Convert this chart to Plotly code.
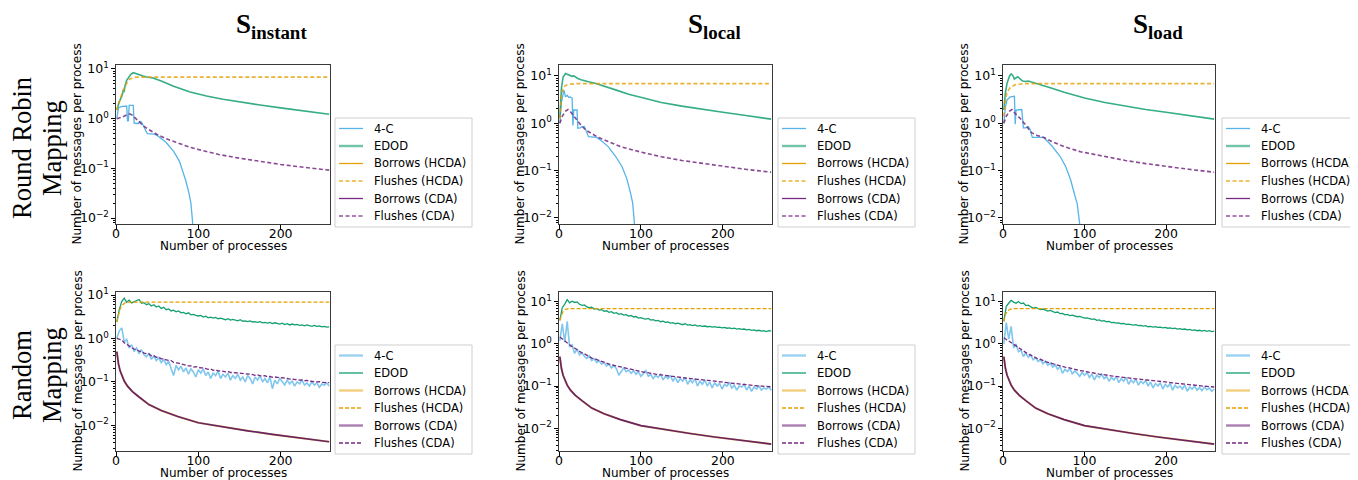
import plotly.graph_objects as go

# The page body adds an 8px margin, so the figure is drawn 8px smaller and shifted.
OFF = 8
W, H = 1358 - OFF, 480 - OFF


def fx(p):
    return (p - OFF) / W


def fy(p):
    return 1 - (p - OFF) / H


# ---------------- labels ----------------
SERIES = ["4-C", "EDOD", "Borrows (HCDA)", "Flushes (HCDA)", "Borrows (CDA)", "Flushes (CDA)"]
COLUMN_TITLES = ["instant", "local", "load"]
ROW_TITLES = [("Round Robin", "Mapping"), ("Random", "Mapping")]
X_TITLE = "Number of processes"
Y_TITLE = "Number of messages per process"
X_TICKS = [0, 100, 200]
Y_TICKS = [0.01, 0.1, 1, 10]
Y_TICK_TEXT = ["10<sup>−2</sup>", "10<sup>−1</sup>", "10<sup>0</sup>", "10<sup>1</sup>"]

# ---------------- Round Robin mapping (top row) ----------------
# borrows stay at zero under round robin (nothing visible on the log axis)
RR_BORROW_X = [1, 259]
RR_BORROW_Y = [0, 0]

# S_instant
TL_4C_X = [1, 2, 3, 6, 11, 13, 14, 15, 16, 21, 22, 24, 27, 29, 31, 33, 36, 38, 46, 50, 61, 70, 77, 85, 89, 91, 93, 94]
TL_4C_Y = [1.0, 1.5, 1.65, 1.75, 1.8, 1.8, 0.9, 0.9, 1.85, 1.85, 0.82, 0.8, 0.8, 0.88, 0.85, 0.72, 0.55, 0.5, 0.49, 0.46, 0.33, 0.22, 0.14, 0.055, 0.03, 0.02, 0.0085, 0.001]
TL_EDOD_X = [1, 4, 7, 9, 10, 11, 13, 16, 18, 21, 25, 29, 33, 37, 45, 55, 70, 90, 110, 130, 150, 175, 200, 228, 259]
TL_EDOD_Y = [1.5, 2.2, 2.8, 3.7, 3.6, 4.6, 5.9, 7.1, 7.8, 8.4, 7.9, 7.5, 7.2, 6.9, 6.6, 5.7, 4.5, 3.45, 2.85, 2.45, 2.15, 1.88, 1.65, 1.44, 1.23]
TL_HCDA_X = [1, 3, 5, 7, 9, 11, 13, 15, 17, 20, 24, 259]
TL_HCDA_Y = [1.5, 2.0, 2.6, 3.1, 3.8, 4.5, 5.2, 5.8, 6.3, 6.6, 6.85, 6.85]
TL_CDA_X = [1, 4, 8, 12, 16, 19, 22, 26, 30, 35, 40, 50, 60, 75, 90, 100, 125, 150, 175, 200, 228, 259]
TL_CDA_Y = [1.0, 1.02, 1.08, 1.17, 1.25, 1.2, 1.08, 0.93, 0.8, 0.68, 0.6, 0.48, 0.4, 0.32, 0.265, 0.24, 0.19, 0.16, 0.137, 0.12, 0.105, 0.092]

# S_local
TM_4C_X = [1, 3, 6, 8, 10, 12, 14, 16, 17, 18, 22, 23, 26, 28, 31, 33, 36, 46, 50, 60, 69, 77, 83, 88, 90, 92, 93]
TM_4C_Y = [1.0, 2.8, 5.0, 3.6, 3.9, 3.5, 3.6, 3.4, 0.9, 1.9, 1.9, 0.78, 0.8, 0.85, 0.85, 0.72, 0.52, 0.5, 0.45, 0.32, 0.2, 0.12, 0.065, 0.03, 0.02, 0.008, 0.001]
TM_EDOD_X = [1, 3, 5, 8, 10, 13, 16, 18, 20, 23, 27, 31, 36, 45, 57, 70, 85, 100, 125, 150, 175, 200, 228, 259]
TM_EDOD_Y = [1.3, 5.5, 9.5, 11.2, 10.8, 10.2, 9.8, 10.0, 9.5, 8.8, 8.3, 7.9, 7.5, 6.9, 6.0, 5.0, 4.1, 3.5, 2.75, 2.3, 1.95, 1.7, 1.45, 1.22]
TM_HCDA_X = [1, 3, 5, 8, 12, 20, 259]
TM_HCDA_Y = [1.25, 3.8, 5.6, 6.3, 6.6, 6.85, 6.85]
TM_CDA_X = [1, 4, 8, 11, 14, 18, 22, 27, 33, 40, 48, 60, 75, 100, 125, 150, 176, 200, 228, 259]
TM_CDA_Y = [1.0, 1.4, 1.8, 1.95, 1.75, 1.4, 1.15, 0.9, 0.71, 0.6, 0.5, 0.41, 0.32, 0.245, 0.195, 0.163, 0.14, 0.122, 0.106, 0.092]

# S_load
TR_4C_X = [1, 3, 5, 9, 14, 15, 16, 19, 23, 25, 28, 31, 33, 36, 50, 60, 70, 77, 83, 88, 91, 94, 95]
TR_4C_Y = [1.0, 2.2, 3.1, 3.6, 3.7, 0.95, 1.9, 1.95, 1.95, 0.8, 0.8, 0.85, 0.75, 0.5, 0.5, 0.33, 0.2, 0.12, 0.063, 0.03, 0.02, 0.0076, 0.001]
TR_EDOD_X = [1, 3, 5, 8, 10, 12, 14, 16, 18, 20, 24, 28, 31, 35, 40, 50, 60, 75, 100, 125, 150, 175, 200, 228, 259]
TR_EDOD_Y = [1.9, 4.5, 7.0, 10.0, 11.0, 10.2, 8.6, 9.2, 9.6, 9.0, 7.8, 7.6, 7.8, 7.4, 7.0, 6.3, 5.5, 4.5, 3.4, 2.75, 2.3, 1.95, 1.7, 1.45, 1.22]
TR_HCDA_X = [1, 3, 5, 9, 15, 25, 259]
TR_HCDA_Y = [1.4, 3.2, 4.5, 5.7, 6.5, 6.85, 6.85]
TR_CDA_X = [1, 4, 8, 11, 15, 21, 27, 35, 42, 50, 60, 75, 95, 125, 150, 175, 200, 228, 259]
TR_CDA_Y = [1.0, 1.4, 1.8, 1.95, 1.6, 1.27, 0.95, 0.63, 0.55, 0.5, 0.41, 0.32, 0.25, 0.195, 0.163, 0.14, 0.122, 0.106, 0.092]

# ---------------- Random mapping (bottom row) ----------------
X_RAND = list(range(1, 260, 3))

BL_4C = [1.0, 1.5, 1.75, 0.85, 0.95, 0.6, 0.72, 0.5, 0.6, 0.45,
         0.55, 0.42, 0.38, 0.46, 0.33, 0.4, 0.31, 0.36, 0.28, 0.33,
         0.25, 0.3, 0.2, 0.14, 0.24, 0.19, 0.23, 0.17, 0.21, 0.15,
         0.2, 0.17, 0.13, 0.19, 0.16, 0.2, 0.14, 0.17, 0.12, 0.16,
         0.14, 0.18, 0.12, 0.15, 0.13, 0.16, 0.11, 0.14, 0.12, 0.15,
         0.11, 0.13, 0.1, 0.14, 0.12, 0.09, 0.13, 0.11, 0.14, 0.1,
         0.12, 0.095, 0.13, 0.07, 0.11, 0.09, 0.12, 0.1, 0.085, 0.11,
         0.09, 0.105, 0.08, 0.1, 0.09, 0.11, 0.085, 0.095, 0.08, 0.1,
         0.085, 0.095, 0.075, 0.09, 0.085, 0.095, 0.08]
BL_EDOD = [2.4, 4.6, 7.2, 8.5, 6.8, 7.6, 6.6, 7.0, 7.4, 7.9,
           6.5, 6.7, 6.0, 6.3, 5.6, 6.0, 5.3, 5.6, 4.9, 5.2,
           4.6, 4.8, 4.3, 4.5, 4.1, 4.3, 3.9, 4.0, 3.7, 3.9,
           3.5, 3.6, 3.4, 3.3, 3.4, 3.1, 3.25, 3.0, 3.1, 2.95,
           3.05, 2.85, 2.95, 2.8, 2.7, 2.85, 2.65, 2.75, 2.6, 2.55,
           2.7, 2.5, 2.55, 2.45, 2.55, 2.4, 2.45, 2.35, 2.45, 2.3,
           2.35, 2.25, 2.35, 2.2, 2.3, 2.2, 2.15, 2.25, 2.1, 2.2,
           2.05, 2.15, 2.05, 2.1, 2.0, 2.05, 1.95, 2.05, 1.95, 1.9,
           2.0, 1.9, 1.95, 1.85, 1.9, 1.82, 1.85]
BL_FCDA = [1.0, 0.95, 0.92, 0.8, 0.74, 0.66, 0.63, 0.57, 0.56, 0.51,
           0.5, 0.46, 0.45, 0.44, 0.4, 0.4, 0.37, 0.37, 0.34, 0.34,
           0.32, 0.31, 0.31, 0.28, 0.28, 0.27, 0.26, 0.25, 0.25, 0.235,
           0.235, 0.22, 0.225, 0.215, 0.21, 0.21, 0.2, 0.195, 0.2, 0.185,
           0.19, 0.18, 0.18, 0.175, 0.17, 0.175, 0.165, 0.165, 0.163, 0.158,
           0.16, 0.152, 0.155, 0.15, 0.148, 0.148, 0.142, 0.145, 0.14, 0.136,
           0.14, 0.132, 0.134, 0.128, 0.13, 0.126, 0.124, 0.125, 0.12, 0.12,
           0.116, 0.118, 0.113, 0.114, 0.11, 0.111, 0.107, 0.108, 0.104, 0.105,
           0.102, 0.1, 0.101, 0.098, 0.098, 0.096, 0.096]
BL_HCDA_X = [1, 3, 5, 7, 9, 11, 14, 259]
BL_HCDA_Y = [2.4, 3.6, 4.8, 5.7, 6.3, 6.6, 6.85, 6.85]

BM_4C = [1.2, 3.0, 1.1, 3.4, 0.85, 0.95, 0.6, 0.75, 0.55, 0.62,
         0.5, 0.45, 0.52, 0.4, 0.44, 0.36, 0.4, 0.33, 0.36, 0.3,
         0.33, 0.27, 0.31, 0.26, 0.18, 0.22, 0.27, 0.22, 0.24, 0.2,
         0.23, 0.19, 0.22, 0.17, 0.2, 0.23, 0.17, 0.19, 0.15, 0.18,
         0.16, 0.19, 0.14, 0.17, 0.15, 0.18, 0.13, 0.16, 0.12, 0.15,
         0.13, 0.16, 0.11, 0.14, 0.12, 0.15, 0.1, 0.13, 0.11, 0.14,
         0.1, 0.125, 0.09, 0.12, 0.1, 0.115, 0.085, 0.11, 0.1, 0.12,
         0.09, 0.105, 0.08, 0.1, 0.095, 0.11, 0.08, 0.1, 0.075, 0.095,
         0.085, 0.1, 0.08, 0.09, 0.085, 0.095, 0.08]
BM_EDOD = [3.6, 7.2, 8.8, 11.2, 9.4, 10.3, 9.6, 9.9, 8.7, 8.2,
           8.4, 7.5, 7.2, 7.4, 6.7, 6.9, 6.3, 6.5, 5.9, 6.1,
           5.6, 5.8, 5.3, 5.5, 5.0, 5.2, 4.8, 4.95, 4.55, 4.7,
           4.35, 4.45, 4.1, 4.2, 3.95, 3.85, 4.0, 3.65, 3.75, 3.5,
           3.6, 3.35, 3.45, 3.25, 3.3, 3.1, 3.2, 3.0, 3.1, 2.95,
           2.85, 3.0, 2.8, 2.85, 2.7, 2.8, 2.65, 2.7, 2.6, 2.65,
           2.55, 2.6, 2.5, 2.55, 2.45, 2.5, 2.4, 2.45, 2.35, 2.4,
           2.3, 2.35, 2.25, 2.3, 2.2, 2.25, 2.15, 2.2, 2.1, 2.15,
           2.05, 2.1, 2.0, 2.05, 1.95, 2.05, 2.0]
BM_FCDA = [1.45, 1.3, 1.15, 1.05, 0.95, 0.86, 0.8, 0.72, 0.67, 0.61,
           0.58, 0.53, 0.5, 0.46, 0.45, 0.42, 0.4, 0.385, 0.36, 0.35,
           0.33, 0.325, 0.31, 0.3, 0.29, 0.285, 0.27, 0.265, 0.255, 0.25,
           0.24, 0.235, 0.226, 0.222, 0.214, 0.212, 0.205, 0.2, 0.197, 0.192,
           0.189, 0.184, 0.182, 0.177, 0.175, 0.171, 0.169, 0.165, 0.163, 0.16,
           0.158, 0.155, 0.153, 0.15, 0.149, 0.146, 0.145, 0.142, 0.14, 0.138,
           0.137, 0.134, 0.133, 0.13, 0.129, 0.126, 0.125, 0.122, 0.121, 0.118,
           0.118, 0.115, 0.114, 0.112, 0.111, 0.109, 0.108, 0.106, 0.105, 0.103,
           0.102, 0.1, 0.1, 0.098, 0.098, 0.096, 0.096]
BM_HCDA_X = [1, 3, 5, 8, 12, 259]
BM_HCDA_Y = [3.6, 5.0, 6.0, 6.6, 6.85, 6.85]

BR_4C = [1.0, 3.2, 1.3, 2.6, 0.8, 1.0, 0.65, 0.72, 0.5, 0.6,
         0.48, 0.55, 0.42, 0.47, 0.38, 0.43, 0.34, 0.39, 0.31, 0.35,
         0.28, 0.32, 0.25, 0.29, 0.2, 0.25, 0.22, 0.26, 0.19, 0.23,
         0.2, 0.17, 0.21, 0.18, 0.21, 0.16, 0.19, 0.14, 0.18, 0.16,
         0.19, 0.15, 0.17, 0.13, 0.16, 0.14, 0.17, 0.12, 0.15, 0.13,
         0.16, 0.11, 0.14, 0.12, 0.145, 0.105, 0.13, 0.115, 0.135, 0.1,
         0.125, 0.09, 0.115, 0.1, 0.12, 0.085, 0.11, 0.095, 0.115, 0.08,
         0.105, 0.09, 0.1, 0.085, 0.105, 0.075, 0.095, 0.085, 0.1, 0.08,
         0.092, 0.078, 0.095, 0.082, 0.09, 0.075, 0.085]
BR_EDOD = [3.4, 7.8, 9.2, 10.8, 9.8, 9.2, 10.1, 9.0, 9.3, 8.1,
           8.3, 7.6, 7.0, 7.3, 6.8, 6.5, 6.7, 6.2, 6.0, 6.2,
           5.7, 5.5, 5.7, 5.2, 5.3, 4.9, 5.0, 4.7, 4.8, 4.5,
           4.4, 4.5, 4.2, 4.1, 4.15, 3.9, 3.8, 3.9, 3.6, 3.7,
           3.45, 3.55, 3.35, 3.4, 3.2, 3.25, 3.1, 3.15, 3.0, 3.05,
           2.9, 2.95, 2.85, 2.8, 2.85, 2.7, 2.75, 2.65, 2.7, 2.55,
           2.6, 2.5, 2.55, 2.45, 2.5, 2.4, 2.45, 2.35, 2.4, 2.3,
           2.35, 2.25, 2.3, 2.2, 2.25, 2.15, 2.2, 2.1, 2.15, 2.05,
           2.1, 2.0, 2.08, 1.98, 2.05, 1.95, 2.0]
BR_FCDA = [1.4, 1.28, 1.16, 1.04, 0.96, 0.87, 0.79, 0.73, 0.66, 0.62,
           0.57, 0.54, 0.5, 0.47, 0.44, 0.43, 0.4, 0.38, 0.365, 0.35,
           0.335, 0.32, 0.315, 0.3, 0.292, 0.28, 0.275, 0.265, 0.258, 0.248,
           0.243, 0.234, 0.23, 0.22, 0.217, 0.21, 0.207, 0.2, 0.198, 0.191,
           0.19, 0.184, 0.181, 0.178, 0.174, 0.172, 0.168, 0.166, 0.162, 0.161,
           0.157, 0.156, 0.152, 0.151, 0.148, 0.147, 0.144, 0.143, 0.14, 0.139,
           0.136, 0.135, 0.132, 0.131, 0.128, 0.127, 0.124, 0.123, 0.121, 0.119,
           0.117, 0.116, 0.114, 0.113, 0.111, 0.11, 0.108, 0.107, 0.105, 0.104,
           0.102, 0.101, 0.099, 0.098, 0.097, 0.096, 0.095]
BR_HCDA_X = [1, 3, 5, 8, 12, 259]
BR_HCDA_Y = [3.4, 4.9, 5.9, 6.5, 6.85, 6.85]

# borrows (HCDA and CDA coincide) under random mapping
RAND_BORROW_X = [1, 2, 3, 5, 7, 10, 14, 20, 28, 40, 55, 75, 100, 130, 160, 190, 220, 259]
RAND_BORROW_Y = [0.5, 0.34, 0.26, 0.18, 0.14, 0.105, 0.08, 0.06, 0.045, 0.03, 0.022, 0.016, 0.0115, 0.0092, 0.0075, 0.0062, 0.0052, 0.0042]

for arr in (BL_4C, BL_EDOD, BL_FCDA, BM_4C, BM_EDOD, BM_FCDA, BR_4C, BR_EDOD, BR_FCDA):
    if len(arr) != len(X_RAND):
        raise ValueError(f"length mismatch {len(arr)} vs {len(X_RAND)}")

PANELS = [
    [(TL_4C_X, TL_4C_Y), (TL_EDOD_X, TL_EDOD_Y), (RR_BORROW_X, RR_BORROW_Y), (TL_HCDA_X, TL_HCDA_Y), (RR_BORROW_X, RR_BORROW_Y), (TL_CDA_X, TL_CDA_Y)],
    [(TM_4C_X, TM_4C_Y), (TM_EDOD_X, TM_EDOD_Y), (RR_BORROW_X, RR_BORROW_Y), (TM_HCDA_X, TM_HCDA_Y), (RR_BORROW_X, RR_BORROW_Y), (TM_CDA_X, TM_CDA_Y)],
    [(TR_4C_X, TR_4C_Y), (TR_EDOD_X, TR_EDOD_Y), (RR_BORROW_X, RR_BORROW_Y), (TR_HCDA_X, TR_HCDA_Y), (RR_BORROW_X, RR_BORROW_Y), (TR_CDA_X, TR_CDA_Y)],
    [(X_RAND, BL_4C), (X_RAND, BL_EDOD), (RAND_BORROW_X, RAND_BORROW_Y), (BL_HCDA_X, BL_HCDA_Y), (RAND_BORROW_X, RAND_BORROW_Y), (X_RAND, BL_FCDA)],
    [(X_RAND, BM_4C), (X_RAND, BM_EDOD), (RAND_BORROW_X, RAND_BORROW_Y), (BM_HCDA_X, BM_HCDA_Y), (RAND_BORROW_X, RAND_BORROW_Y), (X_RAND, BM_FCDA)],
    [(X_RAND, BR_4C), (X_RAND, BR_EDOD), (RAND_BORROW_X, RAND_BORROW_Y), (BR_HCDA_X, BR_HCDA_Y), (RAND_BORROW_X, RAND_BORROW_Y), (X_RAND, BR_FCDA)],
]

# ---------------- styling ----------------
C_BLUE, C_GREEN, C_ORANGE, C_PURPLE = "#56B4E9", "#12A070", "#E69F00", "#762A83"
COLORS = [C_BLUE, C_GREEN, C_ORANGE, C_ORANGE, C_PURPLE, C_PURPLE]
DASH_THIN, DASH_THICK = "4px,2px", "4px,2.5px"
# (width, opacity, dash): legend samples
TOP_STYLE = [(1.3, 1.0, None), (2.4, 0.6, None), (1.3, 1.0, None), (2.0, 0.6, DASH_THICK), (1.3, 1.0, None), (2.0, 0.6, DASH_THICK)]
BOT_STYLE = [(2.4, 0.6, None), (1.3, 1.0, None), (2.4, 0.5, None), (1.3, 1.0, DASH_THIN), (2.4, 0.6, None), (1.3, 1.0, DASH_THIN)]
# (width, opacity, dash): plotted lines
TOP_LINE = [(1.3, 1.0, None), (1.6, 0.85, None), (1.3, 1.0, None), (1.6, 0.8, DASH_THICK), (1.3, 1.0, None), (1.6, 0.85, DASH_THICK)]
BOT_LINE = [(1.6, 0.75, None), (1.3, 1.0, None), (2.0, 0.5, None), (1.3, 1.0, DASH_THIN), (1.7, 1.0, None), (1.3, 1.0, DASH_THIN)]
BOT_BORROW_CDA_COLOR = "#6A2260"

COL_X = [(116, 330), (559, 772), (1003, 1215)]
ROW_Y = [(65, 224), (292, 451)]
Y_RANGES = [(-2.12, 1.08), (-2.13, 1.23), (-2.13, 1.23), (-2.59, 1.07), (-2.54, 1.23), (-2.54, 1.23)]
X_RANGE = (0, 260)
LEGEND_XY = [(335, 118), (778, 118), (1222, 118), (335, 345), (778, 345), (1222, 345)]
LEGEND_W, LEGEND_H, LEGEND_STEP = 137, 109, 17.5
TITLE_X = [271, 714, 1158]
ROW_LABEL_X = (22, 52)

MINOR = [m * 10.0 ** e for e in range(-3, 2) for m in range(2, 10)]
TICK_FONT = dict(family="DejaVu Sans", size=12.5, color="black")
LABEL_FONT = dict(family="DejaVu Sans", size=12, color="black")
LEG_FONT = dict(family="DejaVu Sans", size=11.5, color="black")

fig = go.Figure()
annotations, shapes = [], []
layout = dict(
    width=W, height=H,
    margin=dict(l=0, r=0, t=0, b=0, autoexpand=False),
    paper_bgcolor="white", plot_bgcolor="white",
    showlegend=False,
)

for k, panel in enumerate(PANELS):
    row, col = divmod(k, 3)
    sfx = "" if k == 0 else str(k + 1)
    legend_style = TOP_STYLE if row == 0 else BOT_STYLE
    line_style = TOP_LINE if row == 0 else BOT_LINE
    for s, (xs, ys) in enumerate(panel):
        w, op, dash = line_style[s]
        color = COLORS[s]
        if row == 1 and s == 4:
            color = BOT_BORROW_CDA_COLOR
        line = dict(color=color, width=w)
        if dash:
            line["dash"] = dash
        fig.add_trace(go.Scatter(
            x=xs, y=ys, mode="lines", name=SERIES[s], line=line, opacity=op,
            xaxis="x" + sfx, yaxis="y" + sfx, hoverinfo="skip",
        ))
    x0, x1 = COL_X[col]
    y0, y1 = ROW_Y[row]
    layout["xaxis" + sfx] = dict(
        domain=[fx(x0), fx(x1)], anchor="y" + sfx, range=list(X_RANGE),
        tickvals=X_TICKS, ticks="outside", ticklen=3.5, tickwidth=1, tickcolor="black",
        tickfont=TICK_FONT, ticklabelstandoff=-6, showgrid=False, zeroline=False,
        showline=True, linecolor="#3a3a3a", linewidth=1.3, mirror=True,
    )
    layout["yaxis" + sfx] = dict(
        domain=[fy(y1), fy(y0)], anchor="x" + sfx, type="log",
        range=list(Y_RANGES[k]), tickvals=Y_TICKS, ticktext=Y_TICK_TEXT,
        ticks="outside", ticklen=3.5, tickwidth=1, tickcolor="black",
        tickfont=TICK_FONT, showgrid=False, zeroline=False,
        showline=True, linecolor="#3a3a3a", linewidth=1.3, mirror=True,
        minor=dict(tickmode="array", tickvals=MINOR, ticks="outside", ticklen=2, tickwidth=0.8, tickcolor="black"),
    )
    # axis titles
    annotations.append(dict(
        text=X_TITLE, xref="paper", yref="paper", x=fx((x0 + x1) / 2), y=fy(y1 + 22),
        xanchor="center", yanchor="middle", showarrow=False, font=LABEL_FONT))
    annotations.append(dict(
        text=Y_TITLE, xref="paper", yref="paper", x=fx(x0 - 39), y=fy((y0 + y1) / 2),
        xanchor="center", yanchor="middle", textangle=-90, showarrow=False, font=LABEL_FONT))
    # legend box
    lx, ly = LEGEND_XY[k]
    shapes.append(dict(
        type="rect", xref="paper", yref="paper", x0=fx(lx), x1=fx(lx + LEGEND_W), y0=fy(ly + LEGEND_H), y1=fy(ly),
        line=dict(color="#cfcfcf", width=1), fillcolor="white", layer="above"))
    for s, name in enumerate(SERIES):
        yc = ly + 10.5 + LEGEND_STEP * s
        w, op, dash = legend_style[s]
        sline = dict(color=COLORS[s], width=w)
        if dash:
            sline["dash"] = dash
        shapes.append(dict(
            type="line", xref="paper", yref="paper", x0=fx(lx + 4), x1=fx(lx + 28), y0=fy(yc), y1=fy(yc),
            line=sline, opacity=op, layer="above"))
        annotations.append(dict(
            text=name, xref="paper", yref="paper", x=fx(lx + 37), y=fy(yc),
            xanchor="left", yanchor="middle", showarrow=False, font=LEG_FONT))

for c, t in enumerate(COLUMN_TITLES):
    annotations.append(dict(
        text=f"<b>S<sub>{t}</sub></b>", xref="paper", yref="paper", x=fx(TITLE_X[c]), y=fy(26),
        xanchor="center", yanchor="middle", showarrow=False,
        font=dict(family="Liberation Serif", size=27, color="black")))

for r, lines in enumerate(ROW_TITLES):
    yc = 148 if r == 0 else 375
    for i, t in enumerate(lines):
        annotations.append(dict(
            text=t, xref="paper", yref="paper", x=fx(ROW_LABEL_X[i]), y=fy(yc),
            xanchor="center", yanchor="middle", textangle=-90, showarrow=False,
            font=dict(family="Liberation Serif", size=26.5, color="black")))

layout["annotations"] = annotations
layout["shapes"] = shapes
fig.update_layout(**layout)
fig.write_html("out.html")
